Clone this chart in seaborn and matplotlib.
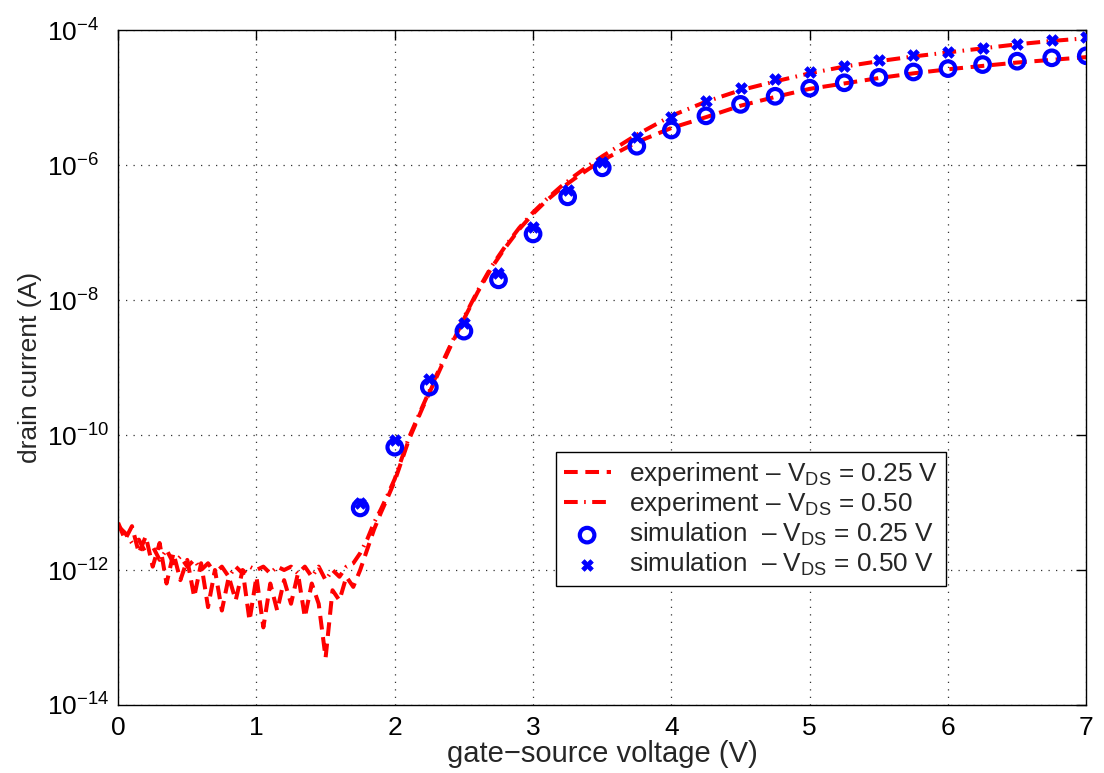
import numpy as np
import matplotlib
matplotlib.use("Agg")
import matplotlib.pyplot as plt
import seaborn as sns
from matplotlib.ticker import FixedLocator, LogFormatterMathtext, NullLocator

# ---------------- data (log10 of drain current in A) ----------------
# experiment, V_DS = 0.25 V (dashed)
exp025_x = [0.00, 0.05, 0.10, 0.15, 0.20, 0.25, 0.30, 0.35, 0.40, 0.45, 0.50, 0.55,
            0.60, 0.65, 0.70, 0.75, 0.80, 0.85, 0.90, 0.95, 1.00, 1.05, 1.10, 1.15,
            1.20, 1.25, 1.30, 1.35, 1.40, 1.45, 1.50, 1.55, 1.60, 1.65, 1.70, 1.75,
            1.80, 1.85, 1.90, 1.95, 2.00, 2.10, 2.20, 2.30, 2.40, 2.50, 2.60, 2.70,
            2.80, 2.90, 3.00, 3.10, 3.20, 3.30, 3.40, 3.50, 3.75, 4.00, 4.25, 4.50,
            4.75, 5.00, 5.25, 5.50, 5.75, 6.00, 6.25, 6.50, 6.75, 7.00]
exp025_log = [-11.30, -11.55, -11.35, -11.75, -11.50, -11.95, -11.60, -12.20, -11.75, -12.15,
              -11.85, -12.40, -11.90, -12.55, -12.00, -12.60, -12.10, -12.45, -12.00, -12.75,
              -12.10, -12.85, -12.20, -12.60, -12.15, -12.50, -12.05, -12.70, -12.20, -12.50,
              -13.30, -12.30, -12.45, -12.10, -12.25, -12.00,
              -11.70, -11.40, -11.15, -10.92, -10.68, -10.08, -9.60, -9.15, -8.70, -8.28,
              -7.88, -7.52, -7.22, -6.95, -6.72, -6.52, -6.35, -6.20, -6.06, -5.93,
              -5.66, -5.45, -5.29, -5.12, -4.99, -4.87, -4.79, -4.71, -4.64, -4.58,
              -4.53, -4.48, -4.44, -4.40]

# experiment, V_DS = 0.50 V (dash-dot)
exp050_x = exp025_x
exp050_log = [-11.35, -11.45, -11.60, -11.55, -11.75, -11.65, -11.85, -11.70, -11.90, -11.80,
              -11.95, -11.85, -12.00, -11.90, -12.05, -11.95, -12.10, -11.95, -12.05, -11.95,
              -12.00, -11.95, -12.05, -11.95, -12.00, -11.95, -12.05, -11.95, -12.10, -11.95,
              -12.15, -12.00, -12.10, -11.95, -11.90, -11.75,
              -11.55, -11.30, -11.10, -10.88, -10.65, -10.05, -9.58, -9.12, -8.68, -8.26,
              -7.86, -7.50, -7.20, -6.93, -6.70, -6.50, -6.32, -6.16, -6.01, -5.87,
              -5.55, -5.27, -5.06, -4.89, -4.76, -4.64, -4.54, -4.46, -4.39, -4.33,
              -4.27, -4.21, -4.16, -4.12]

# simulation points
sim_x = [1.75, 2.00, 2.25, 2.50, 2.75, 3.00, 3.25, 3.50, 3.75, 4.00, 4.25,
         4.50, 4.75, 5.00, 5.25, 5.50, 5.75, 6.00, 6.25, 6.50, 6.75, 7.00]
sim025_log = [-11.08, -10.18, -9.29, -8.46, -7.70, -7.02, -6.47, -6.04, -5.72, -5.48, -5.27,
              -5.10, -4.98, -4.86, -4.78, -4.70, -4.62, -4.57, -4.51, -4.46, -4.41, -4.38]
sim050_log = [-11.00, -10.07, -9.17, -8.34, -7.60, -6.92, -6.37, -5.95, -5.59, -5.29, -5.05,
              -4.86, -4.73, -4.62, -4.53, -4.44, -4.37, -4.33, -4.27, -4.21, -4.15, -4.10]

x_ticks = [0, 1, 2, 3, 4, 5, 6, 7]
y_ticks = [1e-14, 1e-12, 1e-10, 1e-8, 1e-6, 1e-4]

labels = ["experiment \u2013 V$_{\\mathrm{DS}}$ = 0.25 V",
          "experiment \u2013 V$_{\\mathrm{DS}}$ = 0.50",
          "simulation  \u2013 V$_{\\mathrm{DS}}$ = 0.25 V",
          "simulation  \u2013 V$_{\\mathrm{DS}}$ = 0.50 V"]

# ---------------- style ----------------
sns.set_style("white")
plt.rcParams["font.family"] = ["Liberation Sans", "DejaVu Sans"]
plt.rcParams["mathtext.fontset"] = "custom"
plt.rcParams["mathtext.rm"] = "Liberation Sans"
plt.rcParams["mathtext.it"] = "Liberation Sans:italic"
plt.rcParams["mathtext.bf"] = "Liberation Sans:bold"
plt.rcParams["axes.unicode_minus"] = True

fig = plt.figure(figsize=(11.04, 7.73), dpi=100)
ax = fig.add_axes([0.107, 0.088, 0.877, 0.873])

red = "#ff0000"
blue = "#0000ff"

sns.lineplot(x=exp025_x, y=np.power(10.0, exp025_log), ax=ax, color=red, lw=2.9,
             linestyle=(0, (3.4, 1.9)), sort=False, estimator=None, label=labels[0])
sns.lineplot(x=exp050_x, y=np.power(10.0, exp050_log), ax=ax, color=red, lw=2.9,
             linestyle=(0, (3.4, 1.6, 0.4, 1.6)), sort=False, estimator=None, label=labels[1])
sns.scatterplot(x=sim_x, y=np.power(10.0, sim025_log), ax=ax, marker="o", s=110,
                facecolor="none", edgecolor=blue, linewidth=3.0, label=labels[2], zorder=5)
sns.scatterplot(x=sim_x, y=np.power(10.0, sim050_log), ax=ax, marker="X", s=70,
                color=blue, edgecolor=blue, linewidth=0.5, label=labels[3], zorder=5)

ax.set_yscale("log")
ax.set_xlim(0, 7)
ax.set_ylim(1e-14, 1e-4)
ax.xaxis.set_major_locator(FixedLocator(x_ticks))
ax.yaxis.set_major_locator(FixedLocator(y_ticks))
ax.yaxis.set_major_formatter(LogFormatterMathtext())
ax.yaxis.set_minor_locator(NullLocator())
ax.xaxis.set_minor_locator(NullLocator())

ax.grid(True, color="#333333", linestyle=(0, (1, 5)), linewidth=0.9)
for s in ax.spines.values():
    s.set_visible(True)
    s.set_color("black")
    s.set_linewidth(1.0)
ax.tick_params(which="major", direction="in", length=7, width=1.0,
               top=True, right=True, labelsize=19, colors="black")
ax.tick_params(axis="x", pad=8)
ax.tick_params(axis="y", pad=51)
for t in ax.get_yticklabels():
    t.set_horizontalalignment("left")

ax.set_xlabel("gate\u2212source voltage (V)", fontsize=21, labelpad=0)
ax.set_ylabel("drain current (A)", fontsize=19, labelpad=4)

handles, labs = ax.get_legend_handles_labels()
leg = ax.legend(handles, labs, loc="upper left", bbox_to_anchor=(0.452, 0.375),
                fontsize=18.8, frameon=True, fancybox=False, framealpha=1,
                edgecolor="black", handlelength=1.8, handletextpad=0.7,
                borderpad=0.3, labelspacing=0.1, borderaxespad=0)
leg.get_frame().set_linewidth(1.0)

fig.savefig("out.png", dpi=100)
